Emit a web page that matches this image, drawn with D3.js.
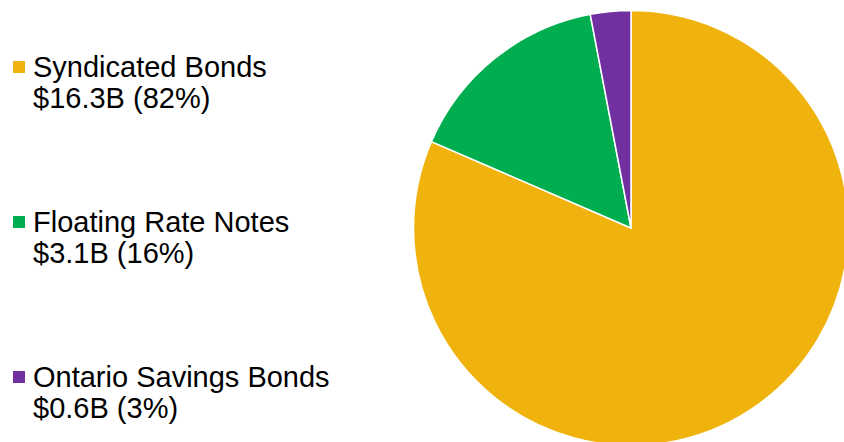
<!DOCTYPE html>
<html>
<head>
<meta charset="utf-8">
<script src="https://cdn.jsdelivr.net/npm/d3@7"></script>
<style>
  html, body { margin: 0; padding: 0; background: #fff; }
  svg { display: block; }
  text { font-family: "Liberation Sans", Arial, sans-serif; fill: #000; }
</style>
</head>
<body>
<script>
// Debt issuance by program, $ billions
const categories = ["Syndicated Bonds", "Floating Rate Notes", "Ontario Savings Bonds"];
const amounts = [16.3, 3.1, 0.6];
const shareLabels = ["$16.3B (82%)", "$3.1B (16%)", "$0.6B (3%)"];
const colors = ["#F0B30E", "#00AE50", "#7030A0"];

const width = 844, height = 442;
const svg = d3.select("body").append("svg")
  .attr("width", width).attr("height", height);

// Pie, starting at 12 o'clock and running clockwise
const cx = 631, cy = 228, radius = 217.5;
const pie = d3.pie().sort(null).value(d => d.value);
const arc = d3.arc().innerRadius(0).outerRadius(radius);
const data = categories.map((c, i) => ({ name: c, value: amounts[i], color: colors[i] }));

svg.append("g")
  .attr("transform", `translate(${cx},${cy})`)
  .selectAll("path")
  .data(pie(data))
  .join("path")
  .attr("d", arc)
  .attr("fill", d => d.data.color)
  .attr("stroke", "#fff")
  .attr("stroke-width", 1.5)
  .attr("stroke-linejoin", "round");

// Legend entries on the left
const legendY = d3.scalePoint().domain(categories).range([77, 387]);
const legend = svg.append("g")
  .selectAll("g")
  .data(data)
  .join("g")
  .attr("transform", d => `translate(0,${legendY(d.name)})`);

legend.append("rect")
  .attr("x", 13).attr("y", -16)
  .attr("width", 12).attr("height", 12)
  .attr("fill", d => d.color);

legend.append("text")
  .attr("x", 33).attr("y", 0)
  .attr("font-size", 29)
  .text(d => d.name);

legend.append("text")
  .attr("x", 33).attr("y", 31)
  .attr("font-size", 29)
  .text((d, i) => shareLabels[i]);
</script>
</body>
</html>
